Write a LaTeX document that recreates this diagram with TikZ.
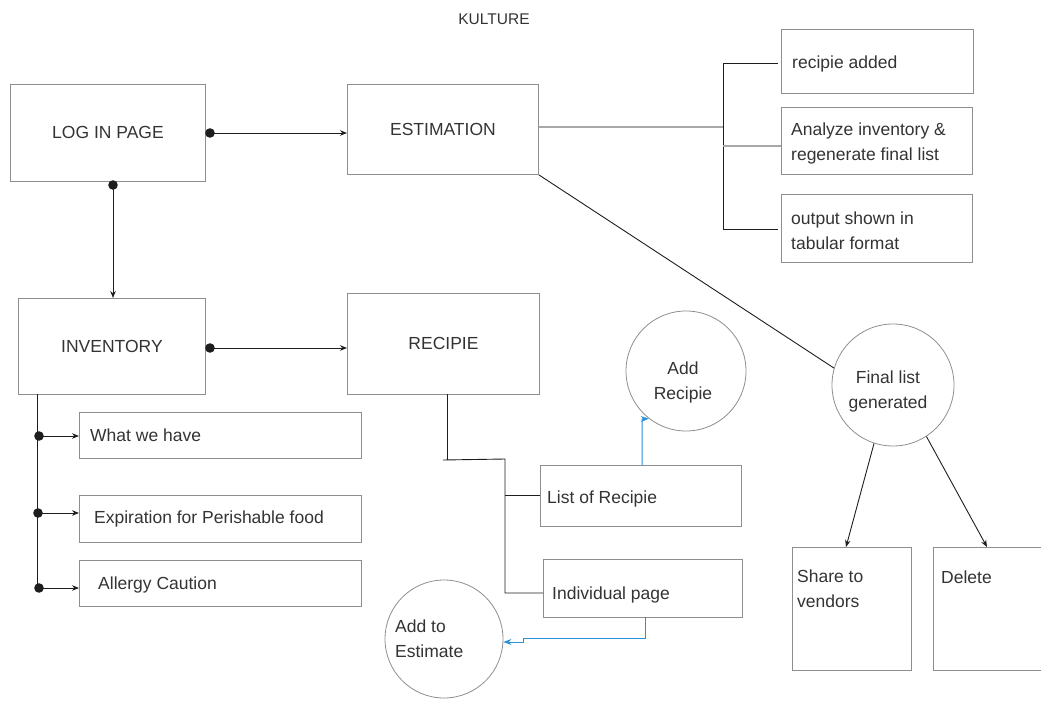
\documentclass[tikz,border=0pt]{standalone}
\usepackage{fontspec}
\setmainfont{Liberation Sans}
\usetikzlibrary{arrows.meta,calc}
\definecolor{boxgray}{HTML}{8E8E8E}
\definecolor{txtgray}{HTML}{333333}
\definecolor{lineblk}{HTML}{1E1E1E}
\definecolor{lightln}{HTML}{A8A8A8}
\definecolor{bluearr}{HTML}{2A90D8}
\tikzset{
  box/.style={draw=boxgray, line width=0.9pt, rectangle, inner sep=0pt, anchor=north west,
    font=\fontsize{17.5}{25}\selectfont, text=txtgray},
  circ/.style={draw=boxgray, line width=0.8pt, circle, inner sep=0pt},
  txt/.style={font=\fontsize{17.5}{25}\selectfont, text=txtgray, inner sep=0pt},
  conn/.style={draw=lineblk, line width=0.9pt},
  arr/.style={conn, -{Stealth[length=7pt,width=5.5pt]}},
  barr/.style={draw=bluearr, line width=1pt, -{Stealth[length=8pt,width=6pt]}},
  dotc/.style={fill=lineblk},
}
\begin{document}
\begin{tikzpicture}[x=1pt,y=-1pt]
\useasboundingbox (0,0) rectangle (1041,704);

% title
\node[txt, font=\fontsize{15.5}{20}\selectfont, anchor=base] (title) at (494,24) {KULTURE};

% main boxes
\node[box, minimum width=195pt, minimum height=97pt] (login) at (10,84) {LOG IN PAGE};
\node[box, minimum width=191pt, minimum height=90pt] (est) at (347,84) {ESTIMATION};
\node[box, minimum width=187pt, minimum height=96pt] (inv) at (18,298) {INVENTORY};
\node[box, minimum width=192pt, minimum height=101pt] (rec) at (347,293) {RECIPIE};

% estimation sub boxes
\node[box, minimum width=192pt, minimum height=64pt] (ra) at (781,29) {};
\node[txt, anchor=base west] (rat) at (792,68) {recipie added};
\node[box, minimum width=191pt, minimum height=67pt] (an) at (781,107) {};
\node[txt, anchor=west, align=left] (ant) at (791,143) {Analyze inventory \&\\regenerate final list};
\node[box, minimum width=191pt, minimum height=68pt] (out) at (781,194) {};
\node[txt, anchor=west, align=left] (outt) at (791,231) {output shown in\\tabular format};

% inventory sub boxes
\node[box, minimum width=282pt, minimum height=46pt] (wwh) at (79,412) {};
\node[txt, anchor=base west] (wwht) at (90,441) {What we have};
\node[box, minimum width=282pt, minimum height=47pt] (exp) at (79,495) {};
\node[txt, anchor=base west] (expt) at (94,523) {Expiration for Perishable food};
\node[box, minimum width=282pt, minimum height=46pt] (all) at (79,560) {};
\node[txt, anchor=base west] (allt) at (98,589) {Allergy Caution};

% recipie sub boxes
\node[box, minimum width=201pt, minimum height=61pt] (list) at (540,465) {};
\node[txt, anchor=base west] (listt) at (547,503) {List of Recipie};
\node[box, minimum width=199pt, minimum height=58pt] (ind) at (543,559) {};
\node[txt, anchor=base west] (indt) at (552,599) {Individual page};

% final boxes
\node[box, minimum width=119pt, minimum height=123pt] (share) at (792,547) {};
\node[txt, anchor=north west, align=left] (sharet) at (797,570) {Share to\\vendors};
\node[box, minimum width=112pt, minimum height=123pt] (del) at (933,547) {};
\node[txt, anchor=base west] (delt) at (941,583) {Delete};

% circles
\node[circ, minimum size=120pt] (addr) at (686,371) {};
\node[txt, align=center] (addrt) at (683,382) {Add\\Recipie};
\node[circ, minimum size=118pt] (adde) at (444,639) {};
\node[txt, anchor=west, align=left] (addet) at (395,639) {Add to\\Estimate};
\node[circ, minimum size=122pt] (final) at (893,385) {};
\node[txt, align=center] (finalt) at (888,391) {Final list\\generated};

% login -> estimation
\coordinate (d1) at (210,133);
\fill[dotc] (d1) circle (4.8pt);
\draw[arr] (d1) -- (d1 -| est.west);
% login -> inventory
\coordinate (d2) at (113,185);
\fill[dotc] (d2) circle (4.8pt);
\draw[arr] (d2) -- (d2 |- inv.north);
% inventory -> recipie
\coordinate (d3) at (210,348);
\fill[dotc] (d3) circle (4.8pt);
\draw[arr] (d3) -- (d3 -| rec.west);

% inventory trunk
\coordinate (t0) at (37,394);
\coordinate (t3) at (37,591);
\draw[conn] (t0) -- (t3);
\coordinate (e1) at (39,436);
\coordinate (e2) at (38,513);
\coordinate (e3) at (39,588);
\fill[dotc] (e1) circle (4.8pt);
\fill[dotc] (e2) circle (4.8pt);
\fill[dotc] (e3) circle (4.8pt);
\draw[arr] (e1) -- (e1 -| wwh.west);
\draw[arr] (e2) -- (e2 -| exp.west);
\draw[arr] (e3) -- (e3 -| all.west);

% estimation -> bracket
\coordinate (b0) at (723,127);
\coordinate (bt) at (723,63);
\coordinate (bm) at (723,146);
\coordinate (bb) at (723,229);
\draw[draw=lightln, line width=1.1pt] (est.east |- b0) -- (b0);
\draw[conn] ($(bt -| ra.west)+(-3,0)$) -- (bt) -- (bb) -- ($(bb -| out.west)+(-3,0)$);
\draw[draw=lightln, line width=1.1pt] (bm) -- (bm -| an.west);

% estimation -> final list
\draw[conn] (est.south east) -- (final.164);
\draw[arr] (final.252) -- ($(share.north west)+(54,0)$);
\draw[arr] (final.303) -- ($(del.north west)+(54,0)$);

% recipie -> sub items
\coordinate (r0) at (447,394);
\coordinate (r1) at (447,460);
\coordinate (rq) at (443,460);
\coordinate (r2) at (505,459);
\coordinate (r3) at (505,593);
\coordinate (r4) at (505,495);
\draw[conn] (r0) -- (r1);
\draw[conn] (rq) -- (r2) -- (r3) -- (r3 -| ind.west);
\draw[conn] (r4) -- (r4 -| list.west);

% blue arrows
\coordinate (u1) at (642,465);
\coordinate (u2) at (642,419);
\draw[barr] (u1) -- (u2) -- (addr.232);
\coordinate (v1) at (645,617);
\coordinate (v2) at (645,638);
\coordinate (v3) at (523,638);
\coordinate (v4) at (523,642);
\draw[barr] (v1) -- (v2) -- (v3) -- (v4) -- (adde.east |- v4);
\end{tikzpicture}
\end{document}
